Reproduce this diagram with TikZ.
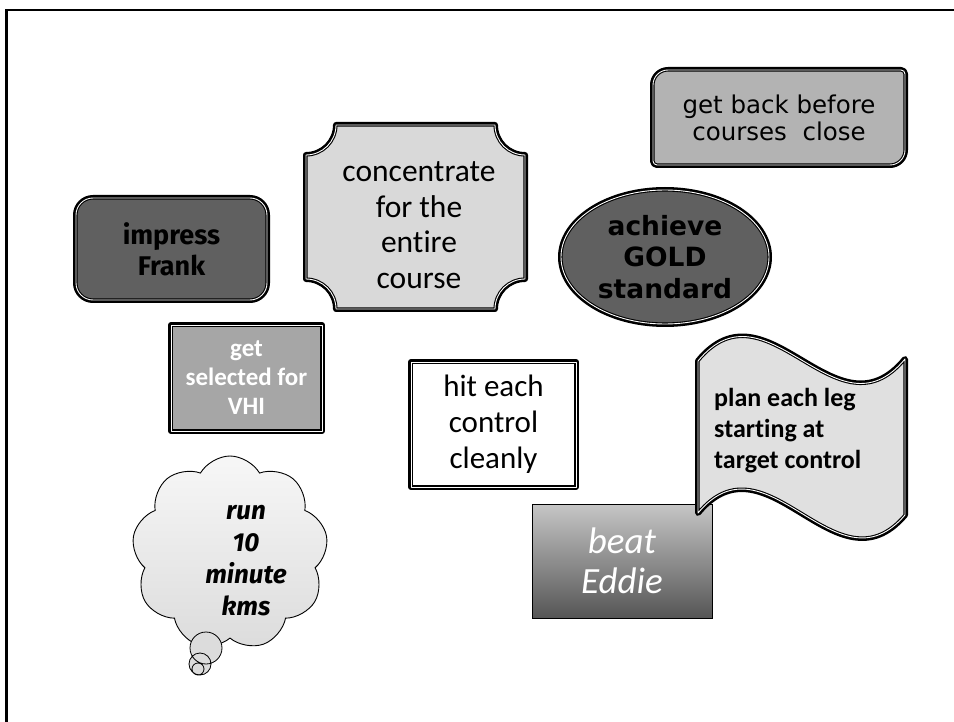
\documentclass[tikz,border=0pt]{standalone}
\usepackage{fontspec}
\setmainfont{Carlito}[Ligatures=NoCommon]
\newfontfamily\comicfont{Fira Sans}
\newfontfamily\verdfont{DejaVu Sans}
\usetikzlibrary{shapes.geometric,shapes.symbols}
\definecolor{darkfill}{HTML}{606060}
\definecolor{concfill}{HTML}{D9D9D9}
\definecolor{backfill}{HTML}{B3B3B3}
\definecolor{selfill}{HTML}{A6A6A6}
\definecolor{wavefill}{HTML}{E0E0E0}
\definecolor{cloudtop}{HTML}{F7F7F7}
\definecolor{cloudbot}{HTML}{DCDCDC}
\definecolor{beattop}{HTML}{C6C6C6}
\definecolor{beatbot}{HTML}{555555}
\tikzset{
  dblborder/.style={preaction={draw=black,line width=6pt,line join=round},
    draw=black, line width=1.1pt, double=white, double distance=0.9pt, line join=round},
  txt/.style={align=center, inner sep=0pt},
  bubble/.style={draw=black, line width=0.8pt},
}
\begin{document}
\begin{tikzpicture}[x=1pt,y=-1pt]
\useasboundingbox (0,0) rectangle (954,722);
\fill[white] (0,0) rectangle (954,722);
\draw[line width=2.2pt] (6.5,722) -- (6.5,10) -- (954,10);

% impress Frank
\node[dblborder, fill=darkfill, rounded corners=17pt, minimum width=191pt, minimum height=102pt,
  txt, font=\comicfont\bfseries\fontsize{27}{31}\selectfont] (impress) at (171.5,249) {impress\\Frank};

% concentrate plaque
\draw[dblborder, fill=concfill] (336,125) -- (495,125) .. controls (495,141.56) and (508.44,155) .. (525,155)
  -- (525,279) .. controls (508.44,279) and (495,292.44) .. (495,309)
  -- (336,309) .. controls (336,292.44) and (322.56,279) .. (306,279)
  -- (306,155) .. controls (322.56,155) and (336,141.56) .. (336,125) -- cycle;
\node[txt, font=\fontsize{31.5}{35.5}\selectfont] (conc) at (419,225) {concentrate\\for the\\entire\\course};

% get back before
\draw[dblborder, fill=backfill] (653,85) .. controls (653,76.72) and (659.72,70) .. (668,70)
  -- (901,70) .. controls (903.21,70) and (905,71.79) .. (905,74)
  -- (905,150) .. controls (905,158.28) and (898.28,165) .. (890,165)
  -- (657,165) .. controls (654.79,165) and (653,163.21) .. (653,161) -- cycle;
\node[txt, font=\verdfont\fontsize{24.5}{27.5}\selectfont] (back) at (779,118) {get back before\\courses\ \ close};

% achieve GOLD standard
\node[dblborder, fill=darkfill, ellipse, minimum width=208pt, minimum height=134pt,
  txt, font=\verdfont\bfseries\fontsize{26.5}{31.5}\selectfont] (gold) at (665,257) {achieve\\GOLD\\standard};

% get selected for VHI
\node[dblborder, fill=selfill, minimum width=151pt, minimum height=106pt,
  txt, text=white, font=\bfseries\fontsize{25}{29}\selectfont] (vhi) at (246.5,378) {get\\selected for\\VHI};

% hit each control cleanly
\node[dblborder, fill=white, minimum width=165pt, minimum height=125pt,
  txt, font=\fontsize{31}{36}\selectfont] (hit) at (493.5,424.5) {hit each\\control\\cleanly};

% beat Eddie
\node[draw=black, line width=1pt, top color=beattop, bottom color=beatbot, minimum width=180pt, minimum height=114pt,
  txt, text=white, font=\itshape\fontsize{37}{40}\selectfont] (eddie) at (622,561) {beat\\Eddie};

% wave
\draw[dblborder, fill=wavefill] (698,361) .. controls (767,277) and (836,443) .. (905,359)
  -- (905,515) .. controls (836,596) and (767,430) .. (698,513) -- cycle;
\node[txt, align=left, anchor=west, font=\bfseries\fontsize{26}{31}\selectfont] (plan) at (714,431) {plan each leg\\starting at\\target control};

% cloud
\node[cloud, cloud puffs=9, cloud puff arc=120, aspect=1.05, draw=black, line width=0.9pt,
  top color=cloudtop, bottom color=cloudbot, minimum width=196pt, minimum height=194pt, inner sep=0pt] (cloud) at (230,553) {};
\node[txt, font=\comicfont\bfseries\itshape\fontsize{26}{32}\selectfont] (run) at (246,561) {run\\10\\minute\\kms};
\fill[cloudbot] (206,648) circle[radius=16] (200,664) circle[radius=11] (198,669) circle[radius=6];
\draw[bubble] (206,648) circle[radius=16] (200,664) circle[radius=11] (198,669) circle[radius=6];
\end{tikzpicture}
\end{document}
